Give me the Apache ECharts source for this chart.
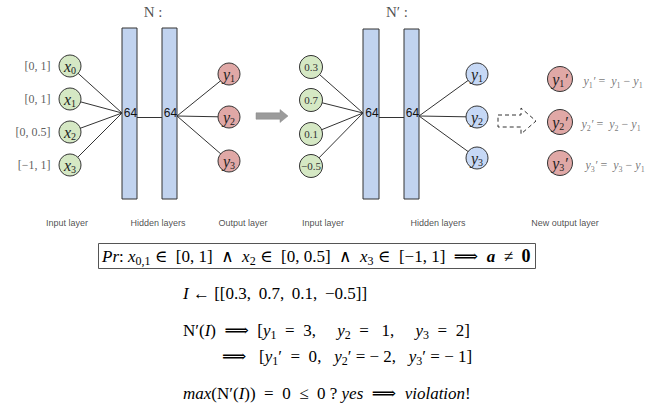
<!DOCTYPE html>
<html><head><meta charset="utf-8">
<script src="https://cdn.jsdelivr.net/npm/echarts@6/dist/echarts.min.js"></script>
<style>html,body{margin:0;padding:0;background:#fff}#c{width:670px;height:406px}</style>
</head><body><div id="c"></div>
<script>
// ---------------- data ----------------
const netNames = ['N', 'N′'];
const inputIndex = [0, 1, 2, 3];
const inputRanges = ['[0, 1]', '[0, 1]', '[0, 0.5]', '[−1, 1]'];
const hiddenUnits = [64, 64];
const outputIndex = [1, 2, 3];
const concreteInput = ['0.3', '0.7', '0.1', '−0.5'];
const outputValues = [3, 1, 2];
const shiftedValues = [0, -2, -1];
const layerNamesN = ['Input layer', 'Hidden layers', 'Output layer'];
const layerNamesN2 = ['Input layer', 'Hidden layers', 'New output layer'];

// ---------------- layout (pixels) ----------------
const L = {
  inX: 70, inY: [66, 99, 132, 165], rangeX: 51,
  rects: [[122, 137], [162, 177]], rectTop: 28, rectBot: 199,
  outX: 229, outY: [74, 117, 161],
  in2X: 311, in2Y: [67, 100, 134, 166],
  rects2: [[363, 379], [404, 419]],
  out2X: 477, out2Y: [74, 117, 158],
  newX: 560, newY: [79, 122, 163], eqX: [583, 581, 585],
  joinIn: 113, joinMid: 117, joinOut: 116,
  labelY: 223, labelXN: [67, 158, 243], labelXN2: [323, 438, 565]
};
const SERIF = "'Liberation Serif', 'DejaVu Serif', serif";
const MSERIF = SERIF;
const SANS = "'Liberation Sans', Arial, sans-serif";
const S = '\u00a0';            // non-collapsing space
const T = '\u2009';            // thin space
const sp = str => str.replace(/ /g, S);
const fmt = v => (v < 0 ? '−' + S + Math.abs(v) : String(v));

const circleRich = {
  v: {fontFamily: SERIF, fontStyle: 'italic', fontSize: 16, lineHeight: 18, color: '#222'},
  s: {fontFamily: SERIF, fontSize: 10, lineHeight: 14, verticalAlign: 'bottom', color: '#222'},
  n: {fontFamily: SERIF, fontSize: 11, lineHeight: 14, color: '#333'}
};
const eqRich = {
  v: {fontFamily: SERIF, fontStyle: 'italic', fontSize: 12, lineHeight: 16, color: '#555'},
  s: {fontFamily: SERIF, fontSize: 8, lineHeight: 13, verticalAlign: 'bottom', color: '#555'},
  n: {fontFamily: SERIF, fontSize: 12, lineHeight: 16, color: '#555'}
};
const FS = 17;
const mathRich = {
  i: {fontFamily: MSERIF, fontStyle: 'italic', fontSize: FS, lineHeight: 22, color: '#111'},
  n: {fontFamily: MSERIF, fontSize: FS, lineHeight: 22, color: '#111'},
  s: {fontFamily: MSERIF, fontSize: 12, lineHeight: 17, verticalAlign: 'bottom', color: '#111'},
  b: {fontFamily: MSERIF, fontStyle: 'italic', fontWeight: 'bold', fontSize: FS, lineHeight: 22, color: '#111'},
  bn: {fontFamily: MSERIF, fontWeight: 'bold', fontSize: FS + 1, lineHeight: 22, color: '#111'}
};

// ---------------- series data ----------------
const inputNodes = inputIndex.map((k, i) => ({value: [L.inX, L.inY[i]], label: {formatter: `{v|x}{s|${k}}`}}));
const outputNodes = outputIndex.map((k, i) => ({value: [L.outX, L.outY[i]], label: {formatter: `{v|y}{s|${k}}`}}));
const input2Nodes = concreteInput.map((v, i) => ({value: [L.in2X, L.in2Y[i]], label: {formatter: `{n|${v}}`}}));
const output2Nodes = outputIndex.map((k, i) => ({value: [L.out2X, L.out2Y[i]], label: {formatter: `{v|y}{s|${k}}`}}));
const newNodes = outputIndex.map((k, i) => ({value: [L.newX, L.newY[i]], label: {formatter: `{v|y}{s|${k}}{v|′}`}}));
const rangeLabels = inputRanges.map((r, i) => ({value: [L.rangeX, L.inY[i]], label: {formatter: sp(r)}}));
const eqLabels = outputIndex.map((k, i) => ({value: [L.eqX[i], L.newY[i] + 2],
  label: {formatter: sp(`{v|y}{s|${k}}{v|′}{n| =  }{v|y}{s|${k}}{n| − }{v|y}{s|1}`)}}));

const edges = [];
function connect(inX, inY, rects, outX, outY) {
  inY.forEach(y => edges.push({coords: [[inX, y], [rects[0][0], L.joinIn]]}));
  edges.push({coords: [[rects[0][1], L.joinMid], [rects[1][0], L.joinMid]]});
  outY.forEach(y => edges.push({coords: [[rects[1][1], L.joinOut], [outX, y]]}));
}
connect(L.inX, L.inY, L.rects, L.outX, L.outY);
connect(L.in2X, L.in2Y, L.rects2, L.out2X, L.out2Y);

const hiddenRects = hiddenUnits.map((u, i) => [L.rects[i][0], L.rectTop, L.rects[i][1], L.rectBot, u])
  .concat(hiddenUnits.map((u, i) => [L.rects2[i][0], L.rectTop + 1, L.rects2[i][1], L.rectBot, u]));

const layerText = layerNamesN.map((t, i) => ({value: [L.labelXN[i], L.labelY], label: {formatter: t}}))
  .concat(layerNamesN2.map((t, i) => ({value: [L.labelXN2[i], L.labelY], label: {formatter: t}})));
const titleText = netNames.map((t, i) => ({value: [[153, 397][i], 12], label: {formatter: t + S + ':'}}));

function nodeSeries(name, data, size, fill) {
  return {
    type: 'scatter', name, data, symbol: 'circle', symbolSize: size, z: 5, silent: true,
    itemStyle: {color: fill, borderColor: '#333', borderWidth: 1, opacity: 1},
    label: {show: true, position: 'inside', rich: circleRich}
  };
}
function textSeries(name, data, label) {
  return {type: 'scatter', name, data, symbolSize: 1, z: 6, silent: true,
    itemStyle: {color: 'rgba(255,255,255,0)'},
    label: Object.assign({show: true}, label)};
}

// formula lines
const lineBox = sp('{i|Pr}{n|: }{i|x}{s|0,1}{n| ∈  [0, 1]  ∧  }{i|x}{s|2}{n| ∈  [0, 0.5]  ∧  }{i|x}{s|3}{n| ∈  [−1, 1]  ⟹  }{b|a}{n|  ≠  }{bn|0}');
const line1 = sp('{i|I}{n| ← [[' + concreteInput.join(', ' + T) + ']]}');
const line2 = sp('{n|N′(}{i|I}{n|)  ⟹  [}' + outputIndex.map((k, i) => `{i|y}{s|${k}}{n|  =  ${i === 1 ? ' ' : ''}${outputValues[i]}}`).join('{n|,     }') + '{n|]}');
const line3 = sp('{n|⟹   [}' + outputIndex.map((k, i) => `{i|y}{s|${k}}{n|′ ${i === 0 ? ' =  ' : '= '}${fmt(shiftedValues[i])}}`).join('{n|,   }') + '{n|]}');
const line4 = sp('{i|max}{n|(N′(}{i|I}{n|))  =  ' + Math.max(...shiftedValues) + '  ≤  0 ? }{i|yes}{n|  ⟹  }{i|violation}{n|!}');

const chart = echarts.init(document.getElementById('c'), null, {renderer: 'svg'});
chart.setOption({
  animation: false,
  backgroundColor: '#fff',
  grid: {left: 0, right: 0, top: 0, bottom: 0},
  xAxis: {type: 'value', min: 0, max: 670, show: false},
  yAxis: {type: 'value', min: 0, max: 406, inverse: true, show: false},
  series: [
    {type: 'lines', coordinateSystem: 'cartesian2d', data: edges, z: 1, silent: true,
     lineStyle: {color: '#333', width: 1, opacity: 1}},
    {type: 'custom', name: 'hidden', data: hiddenRects, z: 3, silent: true,
     renderItem: (params, api) => {
       const p0 = api.coord([api.value(0), api.value(1)]);
       const p1 = api.coord([api.value(2), api.value(3)]);
       const pm = api.coord([0, L.joinIn]);
       return {type: 'group', children: [
         {type: 'rect', shape: {x: p0[0], y: p0[1], width: p1[0] - p0[0], height: p1[1] - p0[1]},
          style: {fill: '#c1d3ef', stroke: '#333', lineWidth: 1}},
         {type: 'text', style: {text: String(api.value(4)), x: (p0[0] + p1[0]) / 2 + 1, y: pm[1],
          align: 'center', verticalAlign: 'middle', fontSize: 12, fontFamily: SANS, fill: '#111'}}
       ]};
     }},
    {type: 'custom', name: 'arrows', data: [[256, 288, 116, 0], [498, 536, 121, 1]], z: 3, silent: true,
     renderItem: (params, api) => {
       const dashed = api.value(3) === 1;
       const x0 = api.value(0), x1 = api.value(1), yc = api.value(2);
       const bh = dashed ? 6 : 3.2, hh = dashed ? 13 : 6.5, hl = dashed ? 15 : 8;
       const pts = [[x0, yc - bh], [x1 - hl, yc - bh], [x1 - hl, yc - hh], [x1, yc], [x1 - hl, yc + hh],
         [x1 - hl, yc + bh], [x0, yc + bh]].map(p => api.coord(p));
       return {type: 'polygon', shape: {points: pts},
         style: dashed ? {fill: 'none', stroke: '#333', lineWidth: 1, lineDash: [4, 3]}
                       : {fill: '#9b9b9b', stroke: '#8a8a8a', lineWidth: 0.5}};
     }},
    nodeSeries('inputs', inputNodes, 22, '#d5e8c4'),
    nodeSeries('outputs', outputNodes, 22, '#e0a8a6'),
    nodeSeries('inputs2', input2Nodes, 23, '#d5e8c4'),
    nodeSeries('outputs2', output2Nodes, 22, '#c6d8f5'),
    nodeSeries('newOutputs', newNodes, 25, '#e0a8a6'),
    textSeries('ranges', rangeLabels, {position: 'left', distance: 0, fontFamily: SERIF, fontSize: 12, color: '#333'}),
    textSeries('eqs', eqLabels, {position: 'right', distance: 0, rich: eqRich}),
    textSeries('layers', layerText, {position: 'inside', fontFamily: SANS, fontSize: 9, color: '#222'}),
    textSeries('titles', titleText, {position: 'inside', fontFamily: SERIF, fontSize: 15, color: '#222'})
  ],
  graphic: [
    {type: 'rect', shape: {x: 98.5, y: 243.5, width: 437, height: 25}, style: {fill: 'none', stroke: '#555', lineWidth: 1}},
    {type: 'text', x: 102, y: 256, style: {text: lineBox, rich: mathRich, verticalAlign: 'middle'}},
    {type: 'text', x: 183, y: 293, style: {text: line1, rich: mathRich, verticalAlign: 'middle'}},
    {type: 'text', x: 183, y: 330, style: {text: line2, rich: mathRich, verticalAlign: 'middle'}},
    {type: 'text', x: 222, y: 356, style: {text: line3, rich: mathRich, verticalAlign: 'middle'}},
    {type: 'text', x: 183, y: 393, style: {text: line4, rich: mathRich, verticalAlign: 'middle'}}
  ]
});
</script></body></html>
